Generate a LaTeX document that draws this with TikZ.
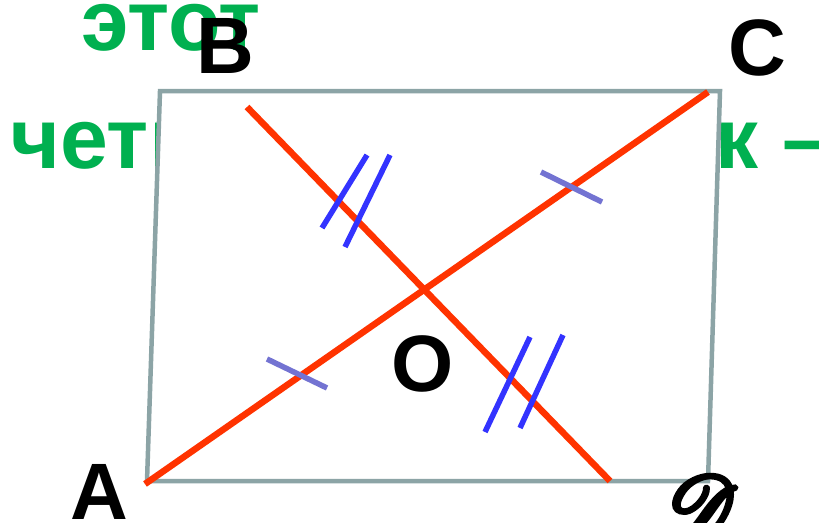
\documentclass[tikz,border=0pt]{standalone}
\usepackage{fontspec}
\setmainfont{Liberation Sans}
\usepackage{mathrsfs}
\usetikzlibrary{positioning}

\definecolor{textgreen}{HTML}{00B050}
\definecolor{edgegray}{HTML}{8CA4A6}
\definecolor{diagred}{HTML}{FF3300}
\definecolor{markblue}{HTML}{3333FF}
\definecolor{markslate}{HTML}{7373D2}

\begin{document}
\begin{tikzpicture}[
    x=1pt, y=-1pt,
    word/.style={text=textgreen, font=\fontsize{86}{86}\selectfont\bfseries, inner sep=0pt, anchor=base west},
    vertex/.style={font=\fontsize{80}{80}\selectfont\bfseries, inner sep=0pt, anchor=base},
    side/.style={draw=edgegray, line width=4.5pt, fill=white, line join=miter},
    diag/.style={draw=diagred, line width=6.5pt},
    double tick/.style={draw=markblue, line width=5.5pt},
    single tick/.style={draw=markslate, line width=5.5pt}
]
    \useasboundingbox (0,0) rectangle (819,522);

    % Text behind the figure
    \node[word] (w1) at (81,50) {этот};
    \node[word] (w2) at (10,168) {четырехугольник –};

    % Corners
    \coordinate (cA) at (147,481);
    \coordinate (cB) at (160,91);
    \coordinate (cC) at (720,91);
    \coordinate (cD) at (708,481);
    \draw[side] (cA) -- (cB) -- (cC) -- (cD) -- cycle;

    % Diagonals
    \coordinate (pA) at (145,484);
    \coordinate (pC) at (708,92);
    \coordinate (pB) at (247,107);
    \coordinate (pD) at (610,481);
    \draw[diag] (pA) -- (pC);
    \draw[diag] (pB) -- (pD);

    % Equal halves
    \draw[single tick] (267,359) -- (327,388);
    \draw[single tick] (541,172) -- (602,202);
    \draw[double tick] (322,228) -- (367,155);
    \draw[double tick] (345,247) -- (390,155);
    \draw[double tick] (485,432) -- (530,337);
    \draw[double tick] (520,428) -- (563,335);

    % Labels
    \node[vertex] (A) at (99,519) {A};
    \node[vertex] (B) at (225,73) {B};
    \node[vertex] (C) at (757,75) {C};
    \node[vertex] (O) at (423,391) {O};
    \node[inner sep=0pt, anchor=base, scale=8.6] (D) at (700,536)
        {\special{pdf:literal direct 2 Tr 0.55 w}$\mathscr{D}$\special{pdf:literal direct 0 Tr}};
\end{tikzpicture}
\end{document}
